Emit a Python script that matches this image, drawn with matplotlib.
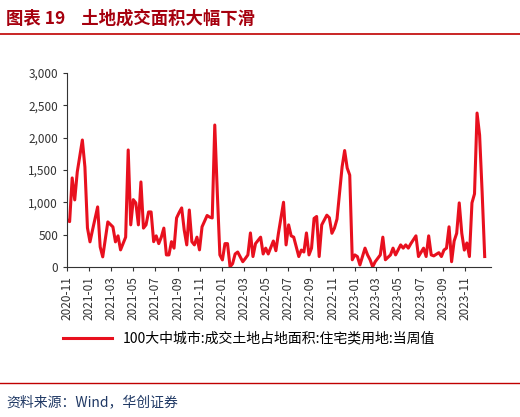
import matplotlib
matplotlib.use("Agg")
import matplotlib.pyplot as plt
import pandas as pd

plt.rcParams['font.family'] = ['Noto Sans CJK SC', 'DejaVu Sans']

weeks = [0,1,2,3,4,6,7,8,9,10,12,13,14,16,18,19,20,21,23,24,25,26,27,28,29,30,31,32,33,34,35,36,37,38,39,40,41,42,43,44,45,46,47,48,49,50,51,52,53,55,56,57,58,59,60,61,62,63,64,65,66,67,69,70,71,72,73,74,76,77,78,79,81,82,83,85,86,87,88,89,91,92,93,94,95,96,97,98,99,100,102,103,104,105,106,108,109,110,111,112,113,114,115,116,117,118,119,120,121,123,124,125,127,128,129,131,132,133,134,135,137,138,140,141,142,143,144,146,147,148,149,150,151,152,153,154,155,156,157,158,159,160,161,162,163,164]
values = [727,700,1376,1036,1469,1963,1546,603,387,572,928,309,155,696,618,387,480,263,460,1809,650,1040,990,650,1314,600,650,850,850,390,480,360,460,600,185,185,390,290,757,840,912,570,340,880,390,340,460,263,620,795,770,757,2195,1140,185,108,360,360,0,50,200,230,80,130,185,525,160,360,460,200,290,200,400,250,520,1000,340,650,480,460,160,260,230,525,185,290,750,780,160,650,800,760,520,600,740,1546,1800,1530,1420,110,185,160,30,160,290,185,110,0,80,185,460,110,185,290,185,340,290,340,290,360,480,160,290,160,480,185,170,220,160,260,290,620,80,400,520,990,520,260,370,160,990,1130,2380,2040,1150,160]
series_label = "100大中城市:成交土地占地面积:住宅类用地:当周值"

start = pd.Timestamp('2020-11-01')
dates = [start + pd.Timedelta(days=7*w) for w in weeks]

fig = plt.figure(figsize=(5.2, 4.17), dpi=100)
ax = fig.add_axes([0.129, 0.36, 0.815, 0.465])
ax.plot(dates, values, color='#e8101e', lw=2.2, label=series_label)
ax.set_ylim(0, 3000)
ax.set_yticks(range(0, 3001, 500))
ax.set_yticklabels([f"{v:,}" for v in range(0, 3001, 500)], fontsize=8.5, color='#333333')
ax.set_xlim(pd.Timestamp('2020-11-01'), pd.Timestamp('2024-01-10'))
ticks = pd.date_range('2020-11-01', '2023-11-01', freq='2MS')
ax.set_xticks(ticks)
ax.set_xticklabels([t.strftime('%Y-%m') for t in ticks], rotation=90, fontsize=8.5, color='#333333')
for s in ['top', 'right']:
    ax.spines[s].set_visible(False)
for s in ['left', 'bottom']:
    ax.spines[s].set_color('#333333')
ax.tick_params(direction='out', length=3, color='#333333')

ax.legend(loc='upper center', bbox_to_anchor=(0.43, -0.27), frameon=False, fontsize=10, handlelength=3.5)

fig.text(0.012, 0.955, "图表 19    土地成交面积大幅下滑", fontsize=12.5, fontweight='bold', color='#a6000e', va='center')
fig.add_artist(plt.Line2D([0.0, 1.0], [0.918, 0.918], color='#c00000', lw=1.2))
fig.add_artist(plt.Line2D([0.0, 1.0], [0.082, 0.082], color='#c00000', lw=1.0))
fig.text(0.012, 0.035, "资料来源：Wind，华创证券", fontsize=10, style='italic', color='#1f3864', va='center')

fig.savefig('out.png', dpi=100)
